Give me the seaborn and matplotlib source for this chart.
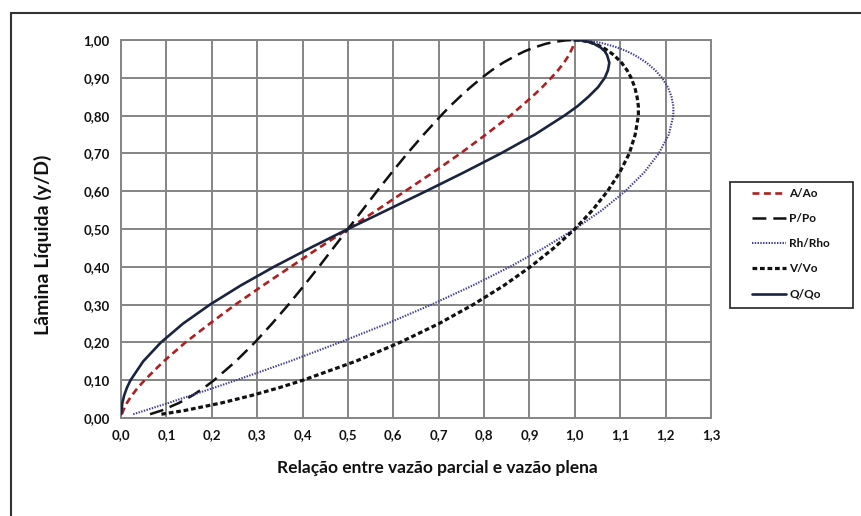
import matplotlib
matplotlib.use("Agg")
import matplotlib.pyplot as plt
import seaborn as sns
from matplotlib.patches import Rectangle
from matplotlib.lines import Line2D

# ---- data ----
y_d = [0.01, 0.02, 0.04, 0.06, 0.08, 0.10, 0.15, 0.20, 0.25, 0.30, 0.35, 0.40, 0.45, 0.50,
       0.55, 0.60, 0.65, 0.70, 0.75, 0.80, 0.825, 0.85, 0.875, 0.90, 0.92, 0.94, 0.96, 0.97,
       0.98, 0.99, 0.995, 0.999, 1.00]
a_ao = [0.002, 0.005, 0.013, 0.024, 0.037, 0.052, 0.094, 0.142, 0.196, 0.252, 0.312, 0.374, 0.436, 0.500,
        0.564, 0.626, 0.688, 0.748, 0.804, 0.858, 0.882, 0.906, 0.928, 0.948, 0.963, 0.976, 0.987, 0.991,
        0.995, 0.998, 0.999, 1.000, 1.000]
p_po = [0.064, 0.090, 0.128, 0.158, 0.183, 0.205, 0.253, 0.295, 0.333, 0.369, 0.403, 0.436, 0.468, 0.500,
        0.532, 0.564, 0.597, 0.631, 0.667, 0.705, 0.725, 0.747, 0.770, 0.795, 0.817, 0.842, 0.872, 0.889,
        0.910, 0.936, 0.955, 0.980, 1.000]
rh_rho = [0.027, 0.053, 0.105, 0.155, 0.205, 0.254, 0.372, 0.482, 0.587, 0.684, 0.774, 0.857, 0.932, 1.000,
          1.060, 1.111, 1.153, 1.185, 1.207, 1.217, 1.217, 1.213, 1.205, 1.192, 1.177, 1.158, 1.132, 1.115,
          1.094, 1.066, 1.047, 1.020, 1.000]
v_vo = [0.089, 0.141, 0.222, 0.289, 0.348, 0.401, 0.517, 0.615, 0.701, 0.776, 0.843, 0.902, 0.954, 1.000,
        1.039, 1.072, 1.099, 1.120, 1.133, 1.140, 1.140, 1.137, 1.132, 1.124, 1.115, 1.103, 1.086, 1.075,
        1.062, 1.044, 1.031, 1.014, 1.000]
q_qo = [0.000, 0.001, 0.003, 0.007, 0.013, 0.021, 0.049, 0.088, 0.137, 0.196, 0.263, 0.337, 0.417, 0.500,
        0.586, 0.672, 0.756, 0.837, 0.912, 0.977, 1.006, 1.030, 1.051, 1.066, 1.073, 1.076, 1.071, 1.066,
        1.057, 1.042, 1.030, 1.014, 1.000]

series_names = ["A/Ao", "P/Po", "Rh/Rho", "V/Vo", "Q/Qo"]
x_ticks = [0.0, 0.1, 0.2, 0.3, 0.4, 0.5, 0.6, 0.7, 0.8, 0.9, 1.0, 1.1, 1.2, 1.3]
x_tick_labels = ["0,0", "0,1", "0,2", "0,3", "0,4", "0,5", "0,6", "0,7", "0,8", "0,9", "1,0", "1,1", "1,2", "1,3"]
y_ticks = [0.0, 0.1, 0.2, 0.3, 0.4, 0.5, 0.6, 0.7, 0.8, 0.9, 1.0]
y_tick_labels = ["0,00", "0,10", "0,20", "0,30", "0,40", "0,50", "0,60", "0,70", "0,80", "0,90", "1,00"]

sns.set_style("white")
plt.rcParams["font.family"] = ["Lato", "DejaVu Sans"]
plt.rcParams["lines.scale_dashes"] = False

W, H = 861, 516
fig = plt.figure(figsize=(W / 100, H / 100), dpi=100)
ax = fig.add_axes([121 / W, 1 - 418 / H, 590 / W, 378 / H])

styles = [
    dict(color="#B01E1E", lw=1.9, ls=(0, (5.0, 3.2))),
    dict(color="#111111", lw=1.8, ls=(0, (10.0, 5.0))),
    dict(color="#3B3B95", lw=1.5, ls=(0, (1.0, 1.0))),
    dict(color="#111111", lw=2.3, ls=(0, (3.4, 2.0))),
    dict(color="#1A2340", lw=1.9, ls="-"),
]
xs = [a_ao, p_po, rh_rho, v_vo, q_qo]

handles = []
for name, xv, st in zip(series_names, xs, styles):
    sns.lineplot(x=xv, y=y_d, sort=False, estimator=None, ax=ax,
                 color=st["color"], linewidth=st["lw"])
    ln = ax.lines[-1]
    ln.set_linestyle(st["ls"])
    ln.set_zorder(3)
    handles.append(Line2D([], [], color=st["color"], lw=st["lw"], ls=st["ls"]))

ax.set_xlim(0, 1.3)
ax.set_ylim(0, 1.0)
ax.set_xticks(x_ticks)
ax.set_xticklabels(x_tick_labels)
ax.set_yticks(y_ticks)
ax.set_yticklabels(y_tick_labels)
ax.grid(True, color="#858585", linewidth=1.4)
ax.set_axisbelow(True)
for sp in ax.spines.values():
    sp.set_color("#858585")
    sp.set_linewidth(1.4)
ax.tick_params(axis="both", direction="inout", length=8, width=1.2, color="#858585",
               labelsize=9.5, labelcolor="#111111", pad=4)
for lbl in ax.get_xticklabels() + ax.get_yticklabels():
    lbl.set_fontweight("bold")

ax.set_xlabel("Relação entre vazão parcial e vazão plena", fontsize=12.5, fontweight="bold",
              color="#111111")
ax.xaxis.set_label_coords((437 - 121) / 590, (418 - 460) / 378)
ax.set_ylabel("Lâmina Líquida (y/D)", fontsize=14, fontweight="bold", color="#111111")
ax.yaxis.set_label_coords((52 - 121) / 590, (418 - 245) / 378)

# legend frame drawn as a box, legend entries inside
fig.patches.append(Rectangle((730 / W, 1 - 308 / H), 123 / W, 126 / H, transform=fig.transFigure,
                             fill=False, edgecolor="#222222", linewidth=1.2))
leg = fig.legend(handles, series_names, loc="upper left",
                 bbox_to_anchor=(752 / W, 1 - 188 / H), frameon=False,
                 fontsize=8.5, handlelength=2.9, handletextpad=0.25, labelspacing=1.2,
                 borderpad=0, borderaxespad=0)
for t in leg.get_texts():
    t.set_fontweight("bold")
    t.set_color("#111111")

# outer chart frame (left and top visible)
fig.patches.append(Rectangle((11 / W, -0.1), 1.2, 1 - 13 / H + 0.1, transform=fig.transFigure,
                             fill=False, edgecolor="#333333", linewidth=1.5))

fig.savefig("out.png", dpi=100)
